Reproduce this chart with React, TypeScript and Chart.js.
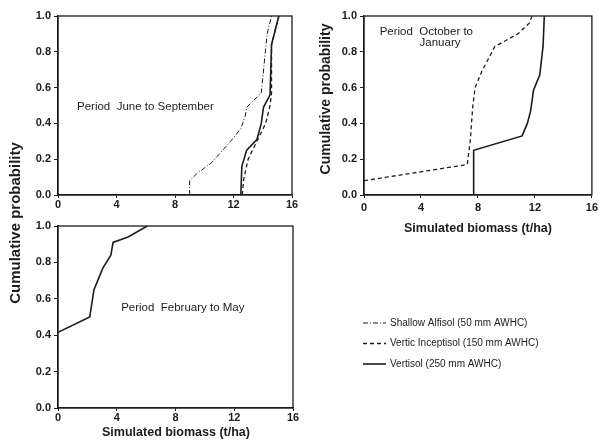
import React, { useEffect, useRef } from "react";
import { Chart, registerables } from "chart.js";

Chart.register(...registerables);

// ---------- data ----------
const xTickValues = [0, 4, 8, 12, 16];
const yTickValues = [0, 0.2, 0.4, 0.6, 0.8, 1.0];
const seriesNames = [
  "Shallow Alfisol (50 mm AWHC)",
  "Vertic Inceptisol (150 mm AWHC)",
  "Vertisol (250 mm AWHC)",
];
const panelTitles = ["Period  June to September", "Period  October to", "January", "Period  February to May"];
const xAxisTitle = "Simulated biomass (t/ha)";
const yAxisTitle = "Cumulative probability";

// Period June to September
const junSepAlfisolX = [9.0, 9.0, 9.5, 10.5, 11.8, 12.5, 12.8, 12.9, 13.9, 14.3, 14.6];
const junSepAlfisolY = [0, 0.08, 0.12, 0.18, 0.3, 0.37, 0.44, 0.49, 0.57, 0.9, 1.0];
const junSepInceptisolX = [12.6, 12.7, 13.0, 13.6, 14.2, 14.5, 14.6, 14.6, 15.1];
const junSepInceptisolY = [0, 0.09, 0.2, 0.3, 0.4, 0.5, 0.57, 0.84, 1.0];
const junSepVertisolX = [12.5, 12.57, 12.9, 13.6, 13.9, 14.05, 14.5, 14.6, 15.1];
const junSepVertisolY = [0, 0.16, 0.25, 0.31, 0.4, 0.49, 0.56, 0.84, 1.0];

// Period October to January
const octJanInceptisolX = [0, 7.25, 7.47, 7.63, 7.8, 8.27, 9.19, 10.8, 11.6, 11.8];
const octJanInceptisolY = [0.08, 0.17, 0.31, 0.49, 0.6, 0.69, 0.83, 0.9, 0.96, 1.0];
const octJanVertisolX = [7.7, 7.7, 11.1, 11.47, 11.7, 11.9, 12.34, 12.57, 12.66];
const octJanVertisolY = [0, 0.25, 0.33, 0.4, 0.47, 0.585, 0.67, 0.83, 1.0];

// Period February to May
const febMayVertisolX = [0, 2.16, 2.45, 3.06, 3.6, 3.75, 4.77, 6.08];
const febMayVertisolY = [0.416, 0.5, 0.65, 0.77, 0.84, 0.91, 0.94, 1.0];

// ---------- styles ----------
const INK = "#1c1c1c";
const FONT = "'Liberation Sans', Arial, sans-serif";
const lineStyles = [
  { borderDash: [5, 2, 1, 2], borderWidth: 1 },
  { borderDash: [4, 3], borderWidth: 1.3 },
  { borderDash: [] as number[], borderWidth: 1.6 },
];

const zip = (xs: number[], ys: number[]) => xs.map((x, i) => ({ x, y: ys[i] }));

function ds(xs: number[], ys: number[], styleIndex: number) {
  const st = lineStyles[styleIndex];
  return {
    label: seriesNames[styleIndex],
    data: zip(xs, ys),
    showLine: true,
    borderColor: INK,
    backgroundColor: INK,
    borderWidth: st.borderWidth,
    borderDash: st.borderDash,
    pointRadius: 0,
    tension: 0,
    fill: false,
  };
}

type TextItem = {
  text: string;
  vx?: number; vy?: number; // data coordinates
  px?: number; py?: number; // pixel coordinates
  font: string;
  align?: CanvasTextAlign;
  rotate?: boolean;
};

const annotPlugin = {
  id: "annot",
  afterDraw(chart: any, _args: any, opts: any) {
    const ctx: CanvasRenderingContext2D = chart.ctx;
    const { left, right, top, bottom } = chart.chartArea;
    ctx.save();
    ctx.strokeStyle = INK;
    ctx.lineWidth = 1.3;
    ctx.strokeRect(left, top, right - left, bottom - top);
    ctx.fillStyle = INK;
    ctx.textBaseline = "middle";
    const texts: TextItem[] = opts.texts || [];
    for (const t of texts) {
      const x = t.vx !== undefined ? chart.scales.x.getPixelForValue(t.vx) : (t.px as number);
      const y = t.vy !== undefined ? chart.scales.y.getPixelForValue(t.vy) : (t.py as number);
      ctx.font = t.font;
      ctx.textAlign = t.align || "left";
      if (t.rotate) {
        ctx.save();
        ctx.translate(x, y);
        ctx.rotate(-Math.PI / 2);
        ctx.fillText(t.text, 0, 0);
        ctx.restore();
      } else {
        ctx.fillText(t.text, x, y);
      }
    }
    if (opts.legend) {
      const L = opts.legend;
      ctx.font = `10px ${FONT}`;
      ctx.textAlign = "left";
      seriesNames.forEach((name, i) => {
        const y = L.y + i * L.gap;
        const st = lineStyles[i];
        ctx.beginPath();
        ctx.setLineDash(st.borderDash);
        ctx.lineWidth = st.borderWidth;
        ctx.moveTo(L.x, y);
        ctx.lineTo(L.x + L.len, y);
        ctx.stroke();
        ctx.setLineDash([]);
        ctx.fillText(name, L.x + L.len + 4, y);
      });
    }
    ctx.restore();
  },
};

type PanelCfg = {
  datasets: any[];
  padding: { left: number; right: number; top: number; bottom: number };
  xHeight: number;
  xTickPad: number;
  texts: TextItem[];
  legend?: { x: number; y: number; gap: number; len: number };
};

const tickFont = { family: FONT, size: 11, weight: "bold" as const };

function buildConfig(p: PanelCfg): any {
  return {
    type: "scatter",
    data: { datasets: p.datasets },
    plugins: [annotPlugin],
    options: {
      responsive: false,
      animation: false,
      devicePixelRatio: 1,
      layout: { padding: p.padding },
      plugins: {
        legend: { display: false },
        tooltip: { enabled: false },
        annot: { texts: p.texts, legend: p.legend },
      },
      scales: {
        x: {
          type: "linear",
          min: 0,
          max: 16,
          offset: false,
          afterBuildTicks: (s: any) => {
            s.ticks = xTickValues.map((v) => ({ value: v }));
          },
          afterFit: (s: any) => {
            s.height = p.xHeight;
          },
          ticks: { color: INK, font: tickFont, padding: p.xTickPad, maxRotation: 0, callback: (v: any) => String(v) },
          grid: { display: true, drawOnChartArea: false, drawTicks: true, tickLength: 3, color: INK, lineWidth: 1 },
          border: { display: true, color: INK, width: 1.3 },
        },
        y: {
          type: "linear",
          min: 0,
          max: 1,
          afterBuildTicks: (s: any) => {
            s.ticks = yTickValues.map((v) => ({ value: v }));
          },
          afterFit: (s: any) => {
            s.width = 28;
          },
          ticks: { color: INK, font: tickFont, padding: 3, callback: (v: any) => Number(v).toFixed(1) },
          grid: { display: true, drawOnChartArea: false, drawTicks: true, tickLength: 4, color: INK, lineWidth: 1 },
          border: { display: true, color: INK, width: 1.3 },
        },
      },
    },
  };
}

const panels: PanelCfg[] = [
  {
    datasets: [
      ds(junSepAlfisolX, junSepAlfisolY, 0),
      ds(junSepInceptisolX, junSepInceptisolY, 1),
      ds(junSepVertisolX, junSepVertisolY, 2),
    ],
    padding: { left: 30, right: 309, top: 16, bottom: 222 },
    xHeight: 27,
    xTickPad: 0,
    texts: [{ text: panelTitles[0], vx: 1.3, vy: 0.49, font: `11.5px ${FONT}` }],
  },
  {
    datasets: [ds(octJanInceptisolX, octJanInceptisolY, 1), ds(octJanVertisolX, octJanVertisolY, 2)],
    padding: { left: 336, right: 7, top: 16, bottom: 222 },
    xHeight: 27,
    xTickPad: 3,
    texts: [
      { text: panelTitles[1], vx: 1.1, vy: 0.91, font: `11.5px ${FONT}` },
      { text: panelTitles[2], vx: 3.9, vy: 0.85, font: `11.5px ${FONT}` },
      { text: yAxisTitle, px: 326, py: 99, font: `bold 14px ${FONT}`, align: "center", rotate: true },
      { text: xAxisTitle, px: 478, py: 229, font: `bold 12.5px ${FONT}`, align: "center" },
    ],
  },
  {
    datasets: [ds(febMayVertisolX, febMayVertisolY, 2)],
    padding: { left: 30, right: 308, top: 226, bottom: 0 },
    xHeight: 36,
    xTickPad: 0,
    texts: [
      { text: panelTitles[3], vx: 4.3, vy: 0.55, font: `11.5px ${FONT}` },
      { text: xAxisTitle, px: 176, py: 433, font: `bold 12.5px ${FONT}`, align: "center" },
      { text: yAxisTitle, px: 16, py: 223, font: `bold 15px ${FONT}`, align: "center", rotate: true },
    ],
    legend: { x: 363, y: 323, gap: 20.5, len: 23 },
  },
];

function Panel({ cfg }: { cfg: PanelCfg }) {
  const ref = useRef<HTMLCanvasElement | null>(null);
  useEffect(() => {
    if (!ref.current) return;
    const chart = new Chart(ref.current, buildConfig(cfg));
    return () => chart.destroy();
  }, [cfg]);
  return (
    <canvas
      ref={ref}
      width={601}
      height={444}
      style={{ position: "absolute", left: 0, top: 0, width: 601, height: 444 }}
    />
  );
}

export default function App() {
  return (
    <div style={{ position: "absolute", left: 0, top: 0, width: 601, height: 444, background: "#fff" }}>
      {panels.map((p, i) => (
        <Panel key={i} cfg={p} />
      ))}
    </div>
  );
}
